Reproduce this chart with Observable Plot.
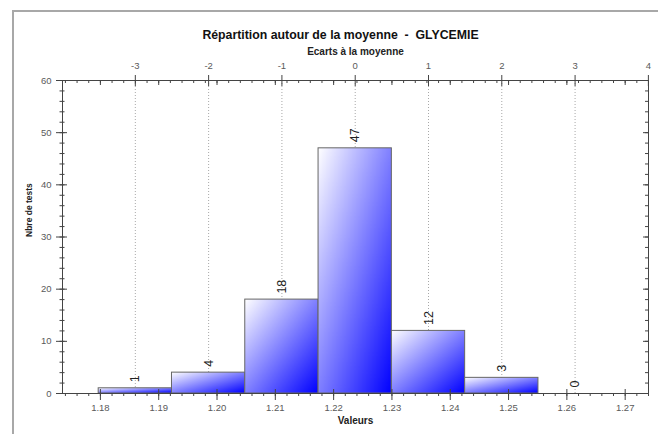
<!DOCTYPE html>
<html><head><meta charset="utf-8">
<script src="https://cdn.jsdelivr.net/npm/d3@7"></script>
<script src="https://cdn.jsdelivr.net/npm/@observablehq/plot@0.6"></script>
<style>
body{margin:0;background:#fff;font-family:"Liberation Sans",Arial,sans-serif;}
#wrap{position:relative;width:658px;height:434px;overflow:hidden}
#border{position:absolute;left:12px;top:10px;width:700px;height:500px;border-left:2px solid #a8a8a8;border-top:2px solid #a8a8a8;pointer-events:none}
</style></head><body><div id="wrap"><div id="border"></div></div>
<script>
// ---- data ----
const title = "Répartition autour de la moyenne  -  GLYCEMIE";
const topTitle = "Ecarts à la moyenne";
const xTitle = "Valeurs";
const yTitle = "Nbre de tests";
const mean = 1.2237;
const sigma = 0.01257;
const binOffsets = [-3, -2, -1, 0, 1, 2, 3];   // bin centres, in sigma units
const counts = [1, 4, 18, 47, 12, 3, 0];
const sigmaTicks = [-3, -2, -1, 0, 1, 2, 3, 4];
const valueTicks = [1.18, 1.19, 1.20, 1.21, 1.22, 1.23, 1.24, 1.25, 1.26, 1.27];
const yTicks = [0, 10, 20, 30, 40, 50, 60];
const xDomain = [1.1735, 1.274];
const yDomain = [0, 60];

const bins = binOffsets.map((k, i) => ({
  k, count: counts[i],
  x1: mean + (k - 0.5) * sigma,
  x2: mean + (k + 0.5) * sigma,
  xc: mean + k * sigma
}));
const xMinor = d3.range(0, 51).map(i => +(1.174 + i * 0.002).toFixed(3)).filter(v => v <= xDomain[1]);
const yMinor = d3.range(0, 61, 2);
const sigmaPos = sigmaTicks.map(k => mean + k * sigma);
const gridPos = sigmaTicks.filter(k => k < 4).map(k => mean + k * sigma);

const font = "'Liberation Sans', Arial, sans-serif";
const tickColor = "#444";
const labelColor = "#5a5a5a";

const chart = Plot.plot({
  width: 658,
  height: 434,
  marginLeft: 62,
  marginRight: 10,
  marginTop: 80,
  marginBottom: 41,
  style: {fontFamily: font, background: "transparent"},
  x: {domain: xDomain, axis: null},
  y: {domain: yDomain, axis: null},
  marks: [
    // dotted sigma gridlines
    Plot.ruleX(gridPos, {x: d => d, stroke: "#a8a8a8", strokeDasharray: "1,2"}),
    // bars
    Plot.rect(bins.filter(b => b.count > 0), {x1: "x1", x2: "x2", y1: 0, y2: "count", fill: "url(#barGrad)", stroke: "#666", strokeWidth: 1}),
    // frame (axis lines)
    Plot.frame({stroke: tickColor}),
    // left axis ticks
    Plot.ruleY(yMinor, {y: d => d, x1: xDomain[0], x2: xDomain[0], insetLeft: -2.5, insetRight: -2.5, stroke: tickColor}),
    Plot.ruleY(yTicks, {y: d => d, x1: xDomain[0], x2: xDomain[0], insetLeft: -6, insetRight: -5, stroke: tickColor}),
    // right axis ticks
    Plot.ruleY(yMinor, {y: d => d, x1: xDomain[1], x2: xDomain[1], insetLeft: -3, insetRight: 0, stroke: tickColor}),
    Plot.ruleY(yTicks, {y: d => d, x1: xDomain[1], x2: xDomain[1], insetLeft: -5, insetRight: 0, stroke: tickColor}),
    // bottom axis ticks
    Plot.ruleX(xMinor, {x: d => d, y1: 0, y2: 0, insetTop: 3, insetBottom: 0, stroke: tickColor}),
    Plot.ruleX(valueTicks, {x: d => d, y1: 0, y2: 0, insetTop: 7, insetBottom: 4, stroke: tickColor}),
    // top axis ticks
    Plot.ruleX(xMinor, {x: d => d, y1: 60, y2: 60, insetTop: 3, insetBottom: 0, stroke: tickColor}),
    Plot.ruleX(valueTicks, {x: d => d, y1: 60, y2: 60, insetTop: 5, insetBottom: 0, stroke: tickColor}),
    Plot.ruleX(sigmaPos, {x: d => d, y1: 60, y2: 60, insetTop: 6, insetBottom: 5, stroke: tickColor}),
    // tick labels
    Plot.text(valueTicks, {x: d => d, y: 0, text: d => d3.format(".2f")(d), dy: 14, fontSize: 9.5, fill: labelColor}),
    Plot.text(sigmaTicks, {x: k => mean + k * sigma, y: 60, text: k => String(k), dy: -15, fontSize: 9.5, fill: labelColor}),
    Plot.text(yTicks, {y: d => d, frameAnchor: "left", text: d => String(d), textAnchor: "end", dx: -11, fontSize: 9.5, fill: labelColor}),
    // bar value labels
    Plot.text(bins, {x: "xc", y: "count", text: d => String(d.count), rotate: -90, textAnchor: "start", dy: -6, fontSize: 12.5, fill: "#222"}),
    // titles
    Plot.text([title], {frameAnchor: "top", dx: -15, dy: -50, fontSize: 12.3, fontWeight: "bold", fill: "#111"}),
    Plot.text([topTitle], {frameAnchor: "top", dy: -33, fontSize: 10, fontWeight: "bold", fill: "#222"}),
    Plot.text([xTitle], {frameAnchor: "bottom", dy: 30, fontSize: 10, fontWeight: "bold", fill: "#222"}),
    Plot.text([yTitle], {frameAnchor: "left", dx: -33, rotate: -90, fontSize: 8.5, fontWeight: "bold", fill: "#222"})
  ]
});

const svg = d3.select(chart);
const defs = svg.insert("defs", ":first-child");
const g = defs.append("linearGradient").attr("id", "barGrad")
  .attr("x1", 0).attr("y1", 0).attr("x2", 1).attr("y2", 1);
g.append("stop").attr("offset", "0%").attr("stop-color", "#ffffff");
g.append("stop").attr("offset", "100%").attr("stop-color", "#0000ff");

document.getElementById("wrap").appendChild(chart);
</script>
</body></html>
